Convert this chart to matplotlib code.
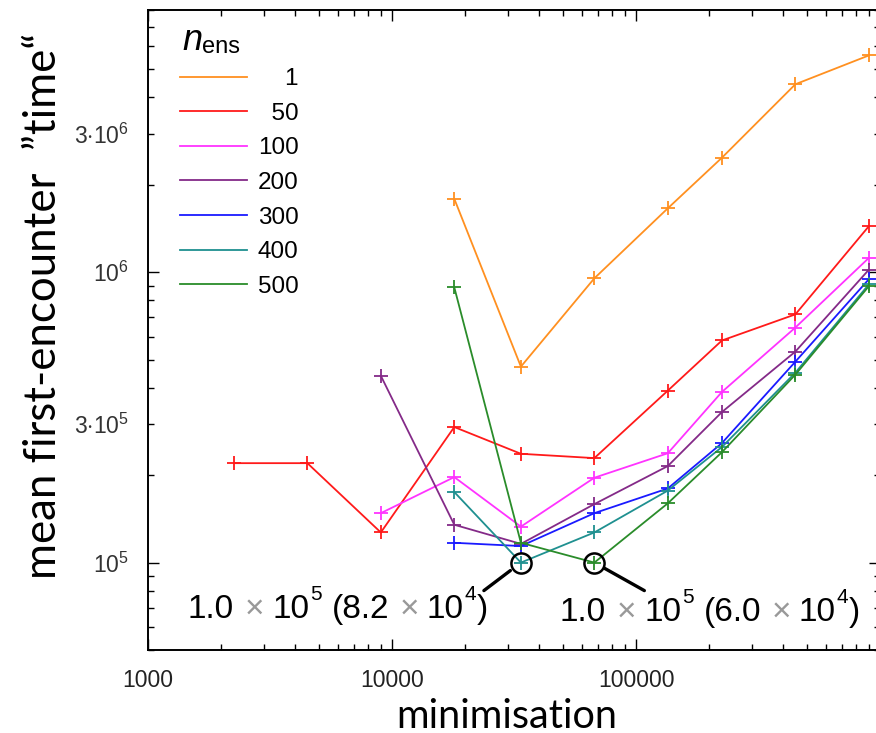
import matplotlib
matplotlib.use('Agg')
import matplotlib.pyplot as plt
from matplotlib.ticker import FixedLocator, FixedFormatter, NullFormatter

# minimisation steps and mean first-encounter "time" for each ensemble size
steps = [2250, 4500, 9000, 18000, 33750, 67500, 135000, 225000, 450000, 900000]

nens = ['1', '50', '100', '200', '300', '400', '500']
first = [3, 0, 2, 2, 3, 3, 3]          # index in steps where each curve starts
times = [
    [1.79e6, 4.73e5, 9.53e5, 1.66e6, 2.48e6, 4.44e6, 5.58e6],
    [2.20e5, 2.20e5, 1.27e5, 2.93e5, 2.37e5, 2.29e5, 3.91e5, 5.82e5, 7.16e5, 1.44e6],
    [1.48e5, 1.97e5, 1.33e5, 1.96e5, 2.38e5, 3.87e5, 6.45e5, 1.12e6],
    [4.40e5, 1.35e5, 1.16e5, 1.59e5, 2.15e5, 3.30e5, 5.33e5, 1.02e6],
    [1.17e5, 1.14e5, 1.48e5, 1.80e5, 2.58e5, 4.92e5, 9.46e5],
    [1.75e5, 1.00e5, 1.27e5, 1.77e5, 2.50e5, 4.51e5, 9.08e5],
    [8.87e5, 1.17e5, 1.00e5, 1.60e5, 2.40e5, 4.44e5, 8.95e5],
]
colors = ['#FF9020', '#FF1A1A', '#FF33FF', '#842A88', '#1A1AFF', '#1F9090', '#2A8C2A']

# best runs: (steps, time, label mantissa of the minimum)
best_steps = [33750, 67500]
best_time = [1.0e5, 1.0e5]
best_min = ['8.2', '6.0']

W, H = 876, 733

plt.rcParams['mathtext.fontset'] = 'custom'
plt.rcParams['mathtext.rm'] = 'Liberation Sans'
plt.rcParams['mathtext.it'] = 'Liberation Sans:italic'
plt.rcParams['mathtext.bf'] = 'Liberation Sans:bold'
plt.rcParams['font.family'] = ['Liberation Sans', 'DejaVu Sans']

fig = plt.figure(figsize = (W/100, H/100), dpi = 100)
ax = fig.add_axes([148/W, 1 - 650/H, (880 - 148)/W, 640/H])

for i in range(len(nens)):
    xs = steps[first[i]:first[i] + len(times[i])]
    ax.plot(xs, times[i], color = colors[i], lw = 1.3, marker = '+', ms = 9.5, mew = 1.3,
            label = '\u2007'*(3 - len(nens[i])) + nens[i], clip_on = False)

ax.set_xscale('log'); ax.set_yscale('log')
ax.set_xlim(1e3, 1e6); ax.set_ylim(5e4, 8e6)

# x ticks
ax.xaxis.set_major_locator(FixedLocator([1e3, 1e4, 1e5, 1e6]))
ax.xaxis.set_major_formatter(FixedFormatter(['1000', '10000', '100000', '']))
ax.xaxis.set_minor_locator(FixedLocator([m*10**e for e in (3, 4, 5) for m in range(2, 10)]))
ax.xaxis.set_minor_formatter(NullFormatter())

# y ticks: decades long, 3x labelled on the minor ticks
ax.yaxis.set_major_locator(FixedLocator([1e5, 1e6]))
ax.yaxis.set_major_formatter(FixedFormatter([r'$10^{5}$', r'$10^{6}$']))
yminor = [m*10**e for e in (4, 5, 6) for m in range(2, 10)]
ax.yaxis.set_minor_locator(FixedLocator(yminor))
ax.yaxis.set_minor_formatter(FixedFormatter(
    [r'$3{\cdot}10^{%d}$' % e if m == 3 and e > 4 else '' for e in (4, 5, 6) for m in range(2, 10)]))

ax.tick_params(which = 'both', direction = 'in', top = True, right = True, width = 1, colors = 'black')
ax.tick_params(which = 'major', length = 8)
ax.tick_params(which = 'minor', length = 4.5)
ax.tick_params(axis = 'x', which = 'both', pad = 14, labelsize = 16.5, labelcolor = '#222222')
ax.tick_params(axis = 'y', which = 'both', pad = 14, labelsize = 16.5, labelcolor = '#333333')
for sp in ax.spines.values(): sp.set_linewidth(1.4)

# legend, lines only
leg = ax.legend(loc = 'upper left', bbox_to_anchor = (180/W, 1 - 68/H), bbox_transform = fig.transFigure,
                frameon = False, borderpad = 0, borderaxespad = 0, fontsize = 17.5,
                handlelength = 2.75, handletextpad = 0.45, labelspacing = 0.52)
for h in leg.legend_handles: h.set_marker('')

renderer = fig.canvas.get_renderer()

def runs_text(x0, y0, runs, family = ['Liberation Sans', 'DejaVu Sans']):
    # lay out text pieces one after the other, y0 is the baseline in pixels
    x = x0
    for txt, size, dy, color, gap, style in runs:
        t = fig.text(x/W, 1 - (y0 - dy)/H, txt, fontsize = size, color = color, style = style,
                     ha = 'left', va = 'baseline', family = family)
        x += t.get_window_extent(renderer).width + gap
    return x

runs_text(182, 50, [('n', 26, 0, 'black', 0, 'italic'), ('ens', 17, -3, 'black', 0, 'normal')])

# circled minima with leader lines and labels
offsets = [(-37, -28), (50, -28)]
shrink = [9.5, 8.5]
starts = [188, 560]
bases = [618, 621]
for i in range(2):
    ax.plot(best_steps[i], best_time[i], marker = 'o', ms = 14.5, mfc = 'none', mec = 'black',
            mew = 1.8, zorder = 5, clip_on = False)
    ax.annotate('', xy = (best_steps[i], best_time[i]), xytext = offsets[i], textcoords = 'offset pixels',
                arrowprops = dict(arrowstyle = '-', lw = 2.4, color = 'black', shrinkA = 0, shrinkB = shrink[i]))
    runs_text(starts[i], bases[i], [
        ('1.0', 24, 0, 'black', 11, 'normal'), ('\u00d7', 24, 0, '#999999', 8, 'normal'),
        ('10', 24, 0, 'black', 1, 'normal'), ('5', 15, 18, 'black', 10, 'normal'),
        ('(' + best_min[i], 24, 0, 'black', 10, 'normal'), ('\u00d7', 24, 0, '#999999', 7, 'normal'),
        ('10', 24, 0, 'black', 1, 'normal'), ('4', 15, 18, 'black', 1, 'normal'),
        (')', 24, 0, 'black', 0, 'normal')])

fig.text(507/W, 1 - 716/H, 'minimisation', fontsize = 28.5, family = ['Lato', 'DejaVu Sans'],
         ha = 'center', va = 'center')
fig.text(44/W, 1 - 306/H, 'mean first-encounter  \u201dtime\u201c', fontsize = 31.5, rotation = 90,
         family = ['Lato', 'DejaVu Sans'], ha = 'center', va = 'center')

plt.savefig('out.png', dpi = 100)
